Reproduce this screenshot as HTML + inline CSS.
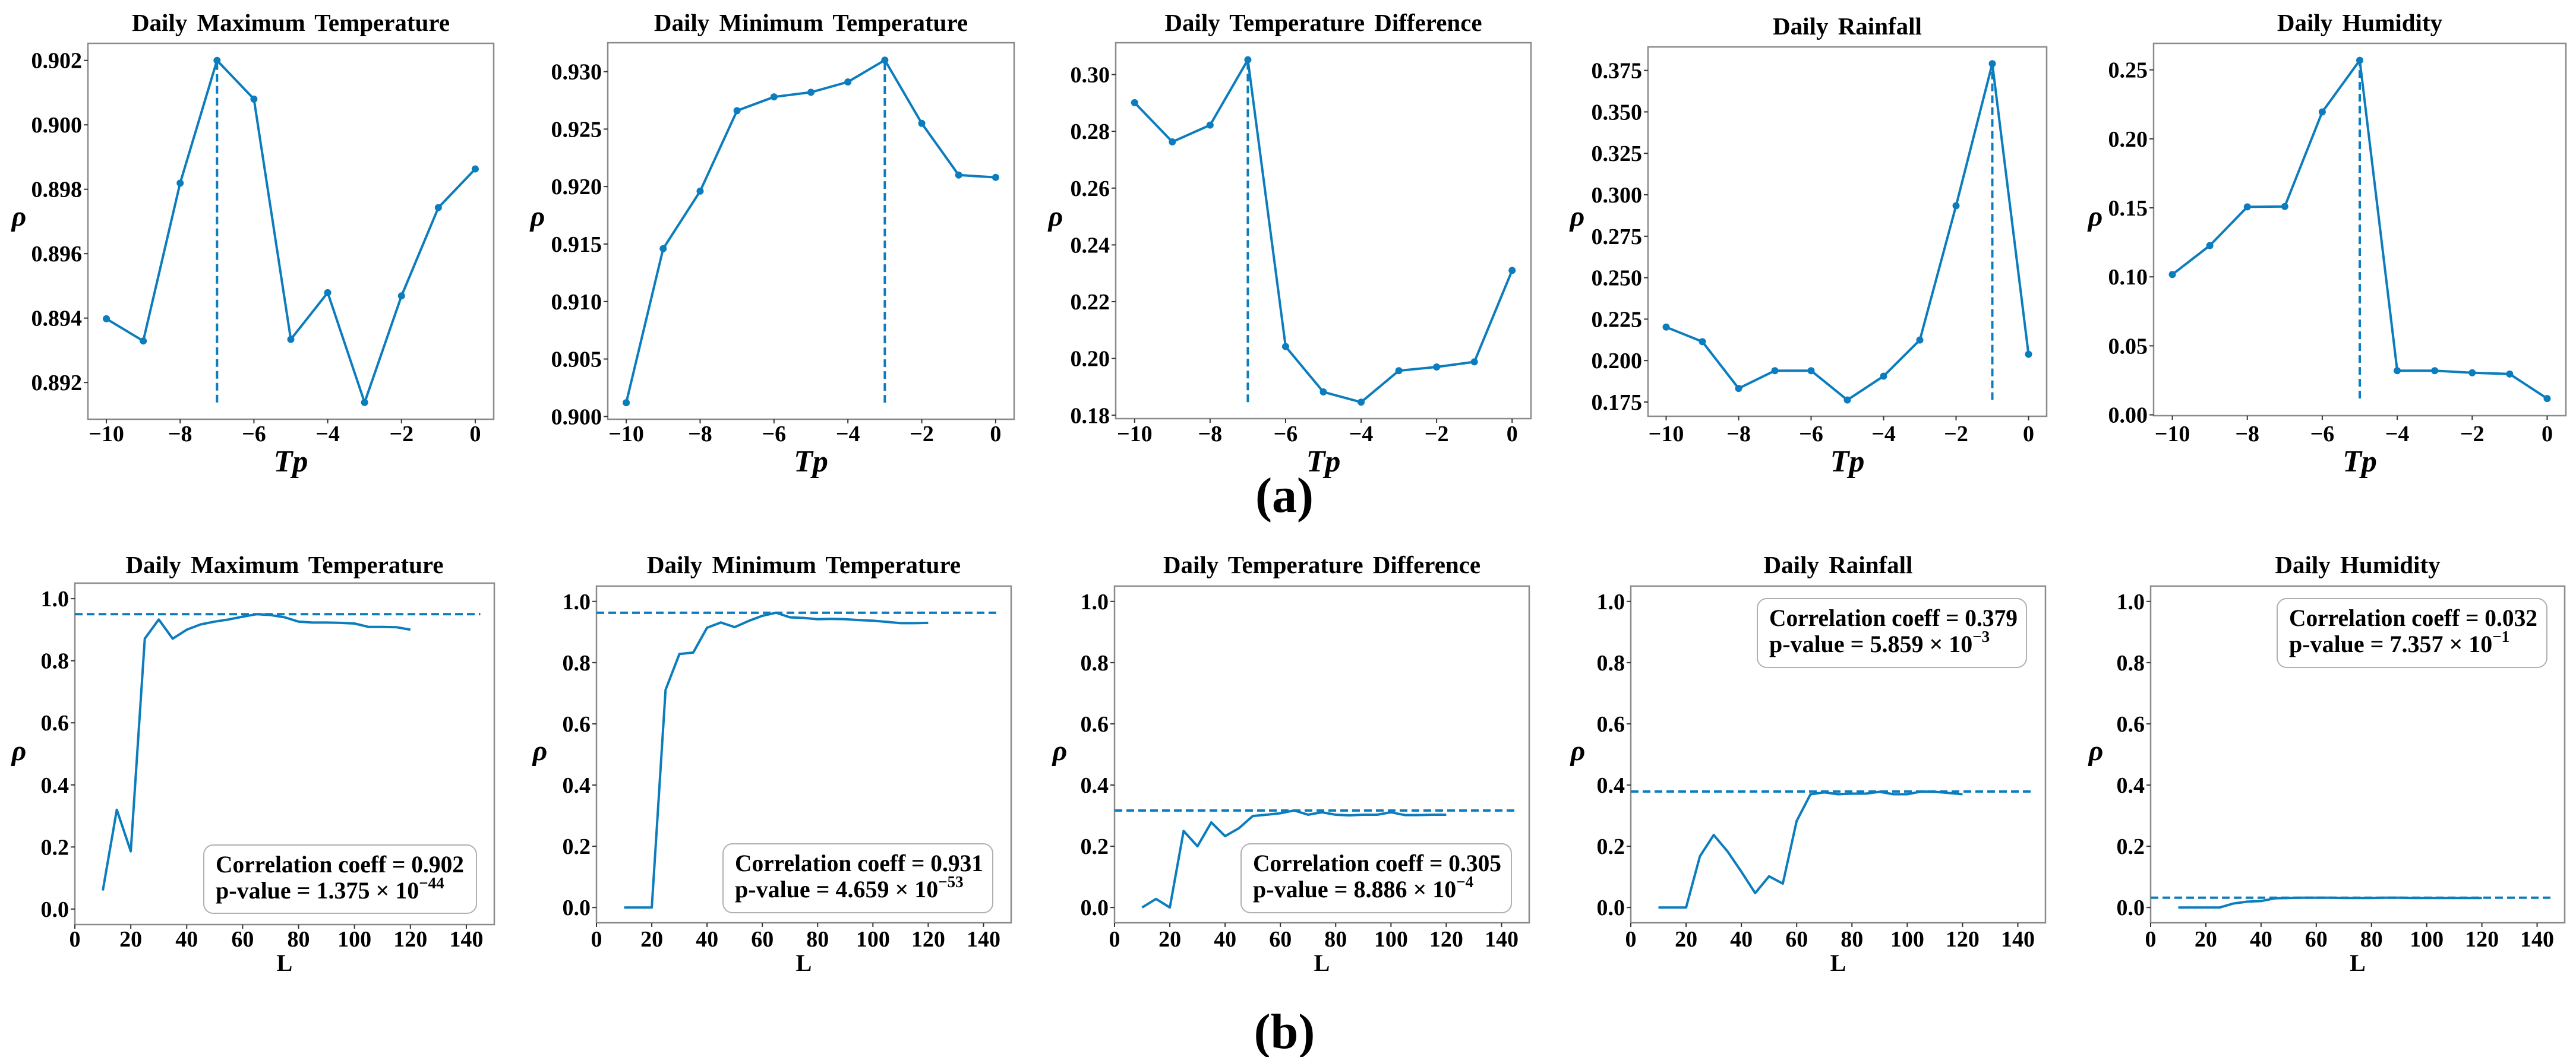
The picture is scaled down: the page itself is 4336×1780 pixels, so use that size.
<!DOCTYPE html>
<html><head><meta charset="utf-8">
<style>
html,body{margin:0;padding:0;background:#fff;}
svg{display:block;}
svg text{font-family:"Liberation Serif","DejaVu Serif",serif;font-weight:bold;}
</style></head>
<body>
<svg id="fig" width="4336" height="1780" viewBox="0 0 4336 1780" xmlns="http://www.w3.org/2000/svg"></svg>
<script>
// ---- data: top row (ρ vs Tp) ----
const tpValues = [-10,-9,-8,-7,-6,-5,-4,-3,-2,-1,0];
const tpTicks = [-10,-8,-6,-4,-2,0];
const tpTickLabels = ["\u221210","\u22128","\u22126","\u22124","\u22122","0"];
const maxTempRho = [0.89398,0.89329,0.89819,0.90200,0.90080,0.89334,0.89479,0.89138,0.89469,0.89743,0.89863];
const minTempRho = [0.9012,0.9146,0.9196,0.9266,0.9278,0.9282,0.9291,0.9310,0.9255,0.9210,0.9208];
const diffTempRho = [0.2901,0.2763,0.2822,0.3052,0.2042,0.1882,0.1846,0.1957,0.1970,0.1988,0.2310];
const rainRho = [0.2202,0.2114,0.1832,0.1939,0.1939,0.1762,0.1906,0.2124,0.2934,0.3791,0.2038];
const humidRho = [0.1017,0.1227,0.1507,0.1510,0.2195,0.2569,0.0320,0.0320,0.0305,0.0296,0.0118];
const maxTempTicks = [0.892,0.894,0.896,0.898,0.900,0.902];
const minTempTicks = [0.900,0.905,0.910,0.915,0.920,0.925,0.930];
const diffTempTicks = [0.18,0.20,0.22,0.24,0.26,0.28,0.30];
const rainTicks = [0.175,0.200,0.225,0.250,0.275,0.300,0.325,0.350,0.375];
const humidTicks = [0.00,0.05,0.10,0.15,0.20,0.25];

// ---- data: bottom row (ρ vs L) ----
const lValues = [10,15,20,25,30,35,40,45,50,55,60,65,70,75,80,85,90,95,100,105,110,115,120];
const lTicks = [0,20,40,60,80,100,120,140];
const rhoTicks = [0.0,0.2,0.4,0.6,0.8,1.0];
const maxTempL = [0.060,0.320,0.186,0.871,0.933,0.871,0.900,0.917,0.926,0.933,0.942,0.950,0.947,0.940,0.926,0.923,0.923,0.922,0.920,0.909,0.909,0.908,0.900];
const minTempL = [0,0,0,0.711,0.828,0.833,0.914,0.931,0.916,0.936,0.953,0.963,0.948,0.946,0.942,0.943,0.942,0.939,0.937,0.933,0.929,0.929,0.930];
const diffTempL = [0.0,0.028,0.0,0.250,0.200,0.278,0.233,0.259,0.299,0.303,0.308,0.317,0.303,0.311,0.303,0.301,0.303,0.303,0.311,0.302,0.302,0.303,0.303];
const rainL = [0,0,0,0.167,0.237,0.183,0.117,0.047,0.102,0.078,0.283,0.370,0.376,0.370,0.372,0.372,0.378,0.370,0.370,0.379,0.378,0.374,0.370];
const humidL = [0,0,0,0,0.013,0.019,0.021,0.030,0.031,0.032,0.032,0.032,0.031,0.031,0.031,0.032,0.032,0.031,0.031,0.031,0.031,0.031,0.031];
const refLines = [0.950,0.963,0.317,0.379,0.032];
const coeffTexts = ["0.902","0.931","0.305","0.379","0.032"];
const pMantissa = ["1.375","4.659","8.886","5.859","7.357"];
const pExponent = ["\u221244","\u221253","\u22124","\u22123","\u22121"];
const titles = ["Daily Maximum Temperature","Daily Minimum Temperature","Daily Temperature Difference","Daily Rainfall","Daily Humidity"];

const NS = "http://www.w3.org/2000/svg";
const svg = document.getElementById("fig");
const COLOR = "#0b7cbd";
const FONT = '"Liberation Serif", "DejaVu Serif", serif';
function mk(tag, attrs, parent){
  const e = document.createElementNS(NS, tag);
  for (const k in attrs) e.setAttribute(k, attrs[k]);
  (parent||svg).appendChild(e);
  return e;
}
function txt(s, attrs, parent){
  attrs["font-family"] = FONT;
  attrs["font-weight"] = "bold";
  const t = mk("text", attrs, parent); t.textContent = s; return t;
}

const topPanels = [
  {box:[148,73,831,706], ylim:[0.89086,0.90253], data:maxTempRho, ticks:maxTempTicks, dec:3, rhoX:32, titleY:52},
  {box:[1023,72,1707,706], ylim:[0.89976,0.93251], data:minTempRho, ticks:minTempTicks, dec:3, rhoX:905, titleY:52},
  {box:[1878,72,2577,705], ylim:[0.1788,0.3112], data:diffTempRho, ticks:diffTempTicks, dec:2, rhoX:1777, titleY:52},
  {box:[2774,79,3445,701], ylim:[0.1664,0.3892], data:rainRho, ticks:rainTicks, dec:3, rhoX:2655, titleY:58},
  {box:[3625,73,4319,700], ylim:[-0.0006,0.2692], data:humidRho, ticks:humidTicks, dec:2, rhoX:3527, titleY:52}
];
const botPanels = [
  {box:[126,982,832,1557], data:maxTempL, rhoX:32, legend:[343,1423,802,1538]},
  {box:[1004,987,1702,1554], data:minTempL, rhoX:909, legend:[1217,1421,1671,1537]},
  {box:[1876,987,2574,1554], data:diffTempL, rhoX:1784, legend:[2089,1421,2544,1537]},
  {box:[2745,987,3443,1554], data:rainL, rhoX:2656, legend:[2958,1008,3411,1124]},
  {box:[3620,987,4317,1554], data:humidL, rhoX:3528, legend:[3833,1008,4287,1124]}
];

function axisFns(box, xlim, ylim){
  const [x0,y0,x1,y1] = box;
  return {
    sx: v => x0 + (v - xlim[0])/(xlim[1]-xlim[0])*(x1-x0),
    sy: v => y1 - (v - ylim[0])/(ylim[1]-ylim[0])*(y1-y0)
  };
}

function frame(g, box){
  const r = mk("rect",{x:box[0],y:box[1],width:box[2]-box[0],height:box[3]-box[1],fill:"none",stroke:"#8a8a8a","stroke-width":2.5}, g);
  
  
}

topPanels.forEach((p, i) => {
  const g = mk("g",{});
  
  
  const {sx, sy} = axisFns(p.box, [-10.5,0.5], p.ylim);
  frame(g, p.box);
  const t = txt(titles[i],{x:(p.box[0]+p.box[2])/2,y:p.titleY,"font-size":41,"text-anchor":"middle","word-spacing":"6"}, g);
  
  
  tpTicks.forEach((v,k) => {
    const x = sx(v);
    mk("line",{x1:x,x2:x,y1:p.box[3],y2:p.box[3]+7,stroke:"#333","stroke-width":2}, g);
    const l = txt(tpTickLabels[k],{x:x,y:743,"font-size":38,"text-anchor":"middle"}, g);
    
    
  });
  p.ticks.forEach(v => {
    const y = sy(v);
    mk("line",{x1:p.box[0]-7,x2:p.box[0],y1:y,y2:y,stroke:"#333","stroke-width":2}, g);
    const l = txt(v.toFixed(p.dec),{x:p.box[0]-10,y:y+13,"font-size":38,"text-anchor":"end"}, g);
    
    
  });
  const xl = txt("Tp",{x:(p.box[0]+p.box[2])/2,y:794,"font-size":52,"font-style":"italic","text-anchor":"middle"}, g);
  
  
  const yl = txt("\u03C1",{x:p.rhoX,y:380,"font-size":48,"font-style":"italic","text-anchor":"middle"}, g);
  
  
  let mi = 0, mn = Infinity;
  p.data.forEach((v,k) => { if (v > p.data[mi]) mi = k; if (v < mn) mn = v; });
  const dl = mk("line",{x1:sx(tpValues[mi]),x2:sx(tpValues[mi]),y1:sy(mn),y2:sy(p.data[mi]),stroke:COLOR,"stroke-width":4,"stroke-dasharray":"13,7"}, g);
  
  
  const pts = p.data.map((v,k) => sx(tpValues[k]).toFixed(1)+","+sy(v).toFixed(1)).join(" ");
  const pl = mk("polyline",{points:pts,fill:"none",stroke:COLOR,"stroke-width":4,"stroke-linejoin":"round"}, g);
  
  
  p.data.forEach((v,k) => {
    const c = mk("circle",{cx:sx(tpValues[k]),cy:sy(v),r:6,fill:COLOR}, g);
    
    
  });
});

botPanels.forEach((p, i) => {
  const g = mk("g",{});
  
  
  const {sx, sy} = axisFns(p.box, [0,150], [-0.05,1.05]);
  frame(g, p.box);
  const t = txt(titles[i],{x:(p.box[0]+p.box[2])/2,y:965,"font-size":41,"text-anchor":"middle","word-spacing":"6"}, g);
  
  
  lTicks.forEach(v => {
    const x = sx(v);
    mk("line",{x1:x,x2:x,y1:p.box[3],y2:p.box[3]+7,stroke:"#333","stroke-width":2}, g);
    const l = txt(String(v),{x:x,y:1594,"font-size":38,"text-anchor":"middle"}, g);
    
    
  });
  rhoTicks.forEach(v => {
    const y = sy(v);
    mk("line",{x1:p.box[0]-7,x2:p.box[0],y1:y,y2:y,stroke:"#333","stroke-width":2}, g);
    const l = txt(v.toFixed(1),{x:p.box[0]-10,y:y+13,"font-size":38,"text-anchor":"end"}, g);
    
    
  });
  const xl = txt("L",{x:(p.box[0]+p.box[2])/2,y:1635,"font-size":40,"text-anchor":"middle"}, g);
  
  
  const yl = txt("\u03C1",{x:p.rhoX,y:1280,"font-size":48,"font-style":"italic","text-anchor":"middle"}, g);
  
  
  const hl = mk("line",{x1:sx(0),x2:sx(145),y1:sy(refLines[i]),y2:sy(refLines[i]),stroke:COLOR,"stroke-width":4,"stroke-dasharray":"13,7"}, g);
  
  
  const pts = p.data.map((v,k) => sx(lValues[k]).toFixed(1)+","+sy(v).toFixed(1)).join(" ");
  const pl = mk("polyline",{points:pts,fill:"none",stroke:COLOR,"stroke-width":4,"stroke-linejoin":"round"}, g);
  
  
  const b = p.legend;
  const lg = mk("g",{}, g);
  
  
  mk("rect",{x:b[0],y:b[1],width:b[2]-b[0],height:b[3]-b[1],rx:16,ry:16,fill:"#fff",stroke:"#b0b0b0","stroke-width":2}, lg);
  const t1 = txt("Correlation coeff = "+coeffTexts[i],{x:b[0]+20,y:b[1]+46,"font-size":40,textLength:418,lengthAdjust:"spacingAndGlyphs"}, lg);
  
  
  const t2 = mk("text",{x:b[0]+20,y:b[1]+90,"font-size":40,"font-family":FONT,"font-weight":"bold"}, lg);
  
  
  const s1 = mk("tspan",{}, t2); s1.textContent = "p-value = "+pMantissa[i]+" \u00D7 10";
  const s2 = mk("tspan",{"font-size":27,dy:-17}, t2); s2.textContent = pExponent[i];
});

const la = txt("(a)",{x:2162,y:862,"font-size":84,"text-anchor":"middle"});


const lb = txt("(b)",{x:2162,y:1765,"font-size":84,"text-anchor":"middle"});


</script>
</body></html>
